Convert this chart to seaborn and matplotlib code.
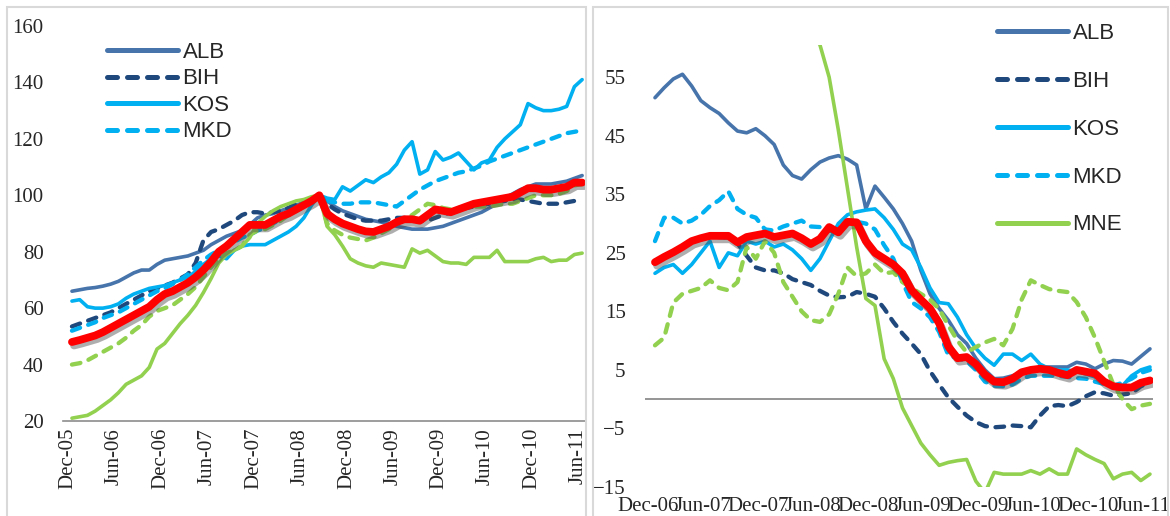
import numpy as np
import pandas as pd
import seaborn as sns
import matplotlib.pyplot as plt
import matplotlib.patheffects as pe
from matplotlib.patches import Rectangle

sns.set_style('white')
plt.rcParams['font.family'] = ['Liberation Serif', 'DejaVu Serif']

W, H = 1170, 516

# months on each panel
idx_months = pd.date_range('2005-12-01', '2011-06-01', freq='MS')   # 67
yoy_months = pd.date_range('2006-12-01', '2011-06-01', freq='MS')   # 55

# left panel: house price index, peak = 100
alb_idx = [66, 66.5, 67, 67.3, 67.8, 68.5, 69.5, 71, 72.5, 73.5,
           73.5, 75.5, 77, 77.5, 78, 78.5, 79.5, 80.5, 82.5, 84,
           85.5, 86.5, 87.5, 89.5, 92, 93, 93.5, 94.5, 95.5, 96.5,
           97.5, 98.5, 100,
           98, 96, 94.5, 93.5, 92.5, 91.5, 91, 90.5, 90, 89,
           88.5, 88, 88, 88, 88.5, 89, 90, 91, 92, 93,
           94, 95.5, 97, 99, 100.5, 102, 103, 104, 104, 104,
           104.5, 105, 106, 107]
bih_idx = [53.5, 54.5, 55.5, 56.5, 57.5, 58.5, 60, 61.5, 63, 64.5,
           66, 67, 68, 69, 70.5, 72, 76, 84, 87, 88,
           89.5, 91, 93, 94, 94, 93.5, 94, 94.5, 95.5, 97,
           98, 99, 100,
           97, 95, 93.5, 92.5, 91.5, 91, 91, 91, 91.5, 92,
           92, 91.5, 91, 91, 92, 93, 94, 95, 95.5, 96,
           96.5, 97, 97.5, 98, 98.5, 98.5, 98, 97.5, 97, 97,
           97, 97.5, 98, 98.5]
kos_idx = [62.5, 63, 60.5, 60, 60, 60.5, 61.5, 63.5, 65, 66,
           67, 67.5, 68, 69, 70, 71, 73, 75.5, 77.5, 78.5,
           77.5, 80.5, 82, 82.5, 82.5, 82.5, 84, 85.5, 87, 89,
           92, 96.5, 100,
           99, 98.5, 103, 101.5, 103.5, 105.5, 104.5, 106.5, 108, 111,
           116, 119, 107.5, 109, 115.5, 112.5, 113.5, 115, 112, 109,
           111.5, 112.5, 117, 120, 122.5, 125, 132.5, 131, 130, 130,
           130.5, 131.5, 138.5, 141]
mkd_idx = [52, 53, 54, 55, 56.5, 57.5, 58.5, 60, 61.5, 63,
           64.5, 66, 67, 68.5, 70, 72, 74.5, 77, 79, 80.5,
           82, 83.5, 85, 86, 87.5, 88.5, 90, 91.5, 93, 95,
           97, 98.5, 100,
           98, 97.5, 97, 97, 97.5, 97.5, 97.5, 97, 96.5, 96,
           98, 100, 102, 103.5, 105, 106, 107, 108, 108.5, 109.5,
           110.5, 112, 113, 114, 115, 116, 117, 118, 119, 120,
           121, 122, 122.5, 123]
mne_idx = [21, 21.5, 22, 23.5, 25.5, 27.5, 30, 33, 34.5, 36,
           39, 45.5, 47.5, 51, 54.5, 57.5, 61, 65.5, 70.5, 76,
           79, 80.5, 82, 85, 90, 92.5, 94.5, 96, 97, 98,
           98.5, 99.5, 100,
           89, 86, 82, 77.5, 76, 75, 74.5, 76, 75.5, 75,
           74.5, 81, 79.5, 80.5, 78.5, 76.5, 76, 76, 75.5, 78,
           78, 78, 80.5, 76.5, 76.5, 76.5, 76.5, 77.5, 78, 76.5,
           77, 77, 79, 79.5]
srb_idx = [40, 40.5, 41.5, 43, 44.5, 46, 47.5, 49.5, 52, 54,
           57, 59, 60, 61, 63, 65, 67.5, 71, 74.5, 77.5,
           79.5, 80.5, 82, 86, 87.5, 88, 89.5, 91, 93, 94.5,
           96, 98.5, 100,
           90, 87.5, 86, 85, 84.5, 84, 85, 86.5, 88, 90,
           91.5, 93, 95, 97, 96.5, 95.5, 95, 95.5, 96, 96,
           96, 96, 96.5, 97, 97, 98, 99, 100, 100, 100,
           100.5, 101.5, 103.5, 104]
avg_idx = [48, 48.7, 49.5, 50.3, 51.5, 53, 54.5, 56, 57.5, 59,
           60.5, 63, 65, 66, 67.5, 69, 71, 73.5, 76.5, 80,
           82, 84.5, 87, 89.5, 89.5, 89.5, 91, 92.5, 93.5, 95,
           96.5, 98, 100,
           93.5, 91.5, 90, 89, 88, 87.2, 87, 88, 89, 90.5,
           91.5, 91.5, 91, 93, 95, 94.5, 94, 95, 96, 97,
           97.5, 98, 98.5, 99, 99.5, 101, 102.5, 102.5, 102, 102,
           102.5, 103, 104.5, 104.5]

# right panel: year-on-year growth, %
alb_yoy = [51.5, 53.2, 54.7, 55.5, 53.5, 51, 49.8, 48.8, 47.2, 45.8,
           45.5, 46.2, 45, 43.5, 40, 38.2, 37.6, 39.2, 40.5, 41.2,
           41.6, 41, 40, 32.5, 36.4, 34.5, 32.5, 30, 27, 22,
           18, 15.5, 13.5, 11, 9.5, 7, 5, 3.5, 3.6, 4,
           4.5, 5, 5.5, 5.5, 5.5, 5.5, 6.3, 6, 5.2, 6,
           6.6, 6.5, 6, 7.3, 8.6]
bih_yoy = [23.3, 24.2, 25, 25.9, 26.8, 27.3, 27.7, 27.7, 27.6, 26.6,
           24.5, 22.5, 22, 22, 21.5, 20.5, 20, 19.5, 18.5, 17.7,
           17.4, 17.5, 18.3, 18, 17.5, 15.5, 13.2, 11.2, 9.5, 7.7,
           4.8, 2.5, 0.3, -1.3, -2.8, -3.9, -4.6, -4.8, -4.7, -4.5,
           -4.6, -4.8, -2.8, -1.2, -1, -1.2, -0.5, 0.5, 1.2, 1,
           0.6, 0.8, 1, 2.2, 2.9]
kos_yoy = [21.5, 22.5, 23, 21.5, 23, 25, 27, 22.5, 25, 24.5,
           27, 26.5, 27, 26, 26.5, 25.5, 24, 22, 24, 27,
           30, 31.5, 32, 32.3, 32.5, 31, 29, 26.5, 25.5, 22.5,
           19, 16.5, 16.3, 14, 11, 8.7, 7, 5.8, 7.7, 7.7,
           6.6, 7.7, 6, 5.2, 5, 5, 4.7, 4.3, 3.8, 3.2,
           2.5, 2.3, 4, 5, 5.5]
mkd_yoy = [27, 31, 31, 30, 30.5, 31.5, 33, 34, 35.5, 32.5,
           31.5, 31, 29, 28.8, 29.5, 30, 30.5, 29.5, 29.4, 28.8,
           28.5, 30, 30.3, 30, 29, 26.3, 24, 20, 16.6, 15.5,
           14, 11.5, 7.5, 7, 6.5, 5, 3, 2.3, 2.2, 2.5,
           3.5, 4, 4, 4, 4, 3.8, 3.6, 3.5, 3, 2.6,
           2.3, 2.8, 3.5, 4.5, 5]
mne_yoy = [125, 118, 112, 106, 100, 96, 92, 88, 85, 82,
           80, 78, 75, 72, 70, 68, 65, 63, 60.5, 55,
           46, 36, 26, 17.2, 16, 6.9, 3.5, -1.5, -4.5, -7.5,
           -9.5, -11.3, -10.8, -10.5, -10.3, -14, -16, -12.5, -12.8, -12.8,
           -12.8, -12.2, -12.8, -11.9, -12.8, -12.8, -8.5, -9.5, -10.3, -11,
           -13.6, -12.8, -12.5, -13.9, -12.8]
srb_yoy = [9.2, 10.5, 16.5, 18, 18.5, 19, 20.3, 19, 18.6, 20,
           26, 24, 27, 25, 20, 17.5, 15, 13.5, 13.2, 14.5,
           18, 22.5, 21, 21.5, 23, 21.5, 21.7, 20, 19, 18,
           17, 15.4, 12.6, 10, 8, 8.9, 9.7, 10.3, 9.2, 12,
           17, 20.3, 19.5, 18.8, 18.5, 18.3, 16.6, 14, 10.5, 6.5,
           2.5, 0, -1.7, -1.1, -0.8]
avg_yoy = [23.4, 24.3, 25.1, 26, 27, 27.5, 27.9, 27.9, 27.9, 26.8,
           27.7, 28, 28.3, 27.7, 28, 28.3, 27.5, 26.5, 27.4, 29.4,
           28.5, 30.3, 30.2, 27, 25, 24, 23, 21.5, 18.6, 17,
           15.5, 13, 9, 7, 7.2, 6, 4.2, 3, 2.9, 3.5,
           4.6, 5, 5.2, 5, 4.5, 4.1, 5, 4.7, 4.4, 3,
           2.2, 2, 2, 2.8, 3.2]

COLORS = {'ALB': '#4674ab', 'BIH': '#1f497d', 'KOS': '#00b0f0',
          'MKD': '#00b0f0', 'MNE': '#92d050', 'SRB': '#92d050', 'AVG': '#ff0000'}
GREY = '#8c8c8c'


def add_line(ax, t, vals, name, lw, dashed=False, **kw):
    sns.lineplot(x=t, y=vals, ax=ax, color=COLORS[name], lw=lw,
                 legend=False, **kw)
    line = ax.lines[-1]
    if dashed:
        line.set_dashes((2.0, 2.0))
        line.set_dash_capstyle('round')
    line.set_solid_capstyle('round')
    return line


def draw_panel(ax, months, data, legend_names):
    t = np.arange(len(months))
    handles = {}
    for name in ['ALB', 'BIH', 'KOS', 'MKD', 'MNE', 'SRB']:
        dashed = name in ('BIH', 'MKD', 'SRB')
        handles[name] = add_line(ax, t, data[name], name,
                                 3.1 if dashed else 2.6, dashed)
    shadow = [pe.SimpleLineShadow(offset=(1.5, -2.5), shadow_color='0.3', alpha=0.45),
              pe.Normal()]
    add_line(ax, t, data['AVG'], 'AVG', 5.6, path_effects=shadow)
    ax.set_xlabel('')
    ax.set_ylabel('')
    return [handles[n] for n in legend_names]


def fig_frac(x0, y0, x1, y1):
    # pixel box -> figure fraction
    return [x0 / W, 1 - y1 / H, (x1 - x0) / W, (y1 - y0) / H]


fig = plt.figure(figsize=(W / 100, H / 100), dpi=100)

# panel borders
for x0, x1 in [(7, 586), (593, 1168)]:
    fig.add_artist(Rectangle((x0 / W, -0.05), (x1 - x0) / W, 1.05 - 7 / H,
                             transform=fig.transFigure, fill=False,
                             ec='#d9d9d9', lw=1.5))

legend_font = {'family': 'Liberation Sans', 'size': 16}

# ---- left: index ----
ax1 = fig.add_axes(fig_frac(63, 26, 586, 421))
left_data = {'ALB': alb_idx, 'BIH': bih_idx, 'KOS': kos_idx, 'MKD': mkd_idx,
             'MNE': mne_idx, 'SRB': srb_idx, 'AVG': avg_idx}
names1 = ['ALB', 'BIH', 'KOS', 'MKD']
h1 = draw_panel(ax1, idx_months, left_data, names1)
ax1.set_xlim(-1.16, 66.5)
ax1.set_ylim(20, 160)
ax1.set_yticks(range(20, 161, 20))
ticks1 = np.arange(0, len(idx_months), 6)
ax1.set_xticks(ticks1 - 0.5)
ax1.set_xticklabels(idx_months[ticks1].strftime('%b-%y'), rotation=90)
ax1.tick_params(axis='y', length=0, labelsize=15, pad=14)
ax1.tick_params(axis='x', length=0, labelsize=15, pad=5)
sns.despine(ax=ax1, left=True)
ax1.spines['bottom'].set_color(GREY)
ax1.spines['bottom'].set_linewidth(1.2)
leg1 = ax1.legend(h1, names1, loc='upper left', bbox_to_anchor=(0.084, 0.96),
                  frameon=False, prop=legend_font, handlelength=3.2,
                  handletextpad=0.2, labelspacing=0.25, borderpad=0, borderaxespad=0)
for h in leg1.legend_handles:
    h.set_linewidth(3.6)

# ---- right: y/y growth ----
ax2 = fig.add_axes(fig_frac(645, 45, 1153, 487))
right_data = {'ALB': alb_yoy, 'BIH': bih_yoy, 'KOS': kos_yoy, 'MKD': mkd_yoy,
              'MNE': mne_yoy, 'SRB': srb_yoy, 'AVG': avg_yoy}
names2 = ['ALB', 'BIH', 'KOS', 'MKD', 'MNE']
ax2.axhline(0, color=GREY, lw=1.3, zorder=1.5)
h2 = draw_panel(ax2, yoy_months, right_data, names2)
ax2.set_xlim(-1.09, 54.33)
ax2.set_ylim(-15, 60.5)
ax2.set_yticks(range(-15, 56, 10))
ticks2 = np.arange(0, len(yoy_months), 6)
ax2.set_xticks(ticks2 - 0.8)
ax2.set_xticklabels(yoy_months[ticks2].strftime('%b-%y'))
ax2.tick_params(axis='y', length=0, labelsize=15, pad=14)
ax2.tick_params(axis='x', length=0, labelsize=15, pad=7)
sns.despine(ax=ax2, left=True, bottom=True)
leg2 = ax2.legend(h2, names2, loc='upper left', bbox_to_anchor=(0.693, 1.05),
                  frameon=False, prop=legend_font, handlelength=3.2,
                  handletextpad=0.2, labelspacing=1.21, borderpad=0, borderaxespad=0)
for h in leg2.legend_handles:
    h.set_linewidth(3.6)

fig.savefig('out.png', dpi=100)
